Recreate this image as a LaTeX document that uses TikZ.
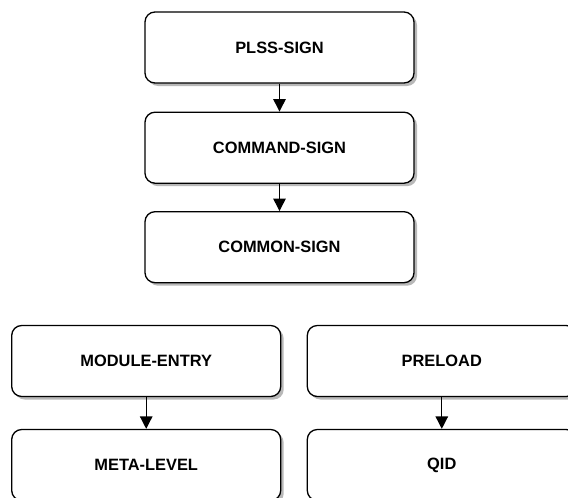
\documentclass[tikz,border=0pt]{standalone}
\usepackage{fontspec}
\setmainfont{Liberation Sans}
\usetikzlibrary{arrows.meta,shadows}
\begin{document}
\begin{tikzpicture}[x=1pt,y=-1pt,
  box/.style={draw=black, line width=1.3pt, fill=white, rounded corners=10pt,
    minimum width=269pt, minimum height=71pt, inner sep=0pt,
    font=\fontsize{16.4}{19}\selectfont\bfseries,
    drop shadow={shadow xshift=3pt, shadow yshift=-3pt, fill=black!28, opacity=1, draw=none}},
  arr/.style={line width=1.3pt, -{Triangle[width=12.5pt,length=12.5pt]}}]
\useasboundingbox (0,0) rectangle (568,498);
\node[box] (plss) at (279.5,47.5) {PLSS-SIGN};
\node[box] (cmd) at (279.5,147.7) {COMMAND-SIGN};
\node[box] (com) at (279.5,247.2) {COMMON-SIGN};
\node[box] (mod) at (146.2,361) {MODULE-ENTRY};
\node[box] (meta) at (146.2,465) {META-LEVEL};
\node[box] (pre) at (441.8,361) {PRELOAD};
\node[box] (qid) at (441.8,465) {QID};
\draw[arr] (plss) -- (cmd);
\draw[arr] (cmd) -- (com);
\draw[arr] (mod) -- (meta);
\draw[arr] (pre) -- (qid);
\end{tikzpicture}
\end{document}
